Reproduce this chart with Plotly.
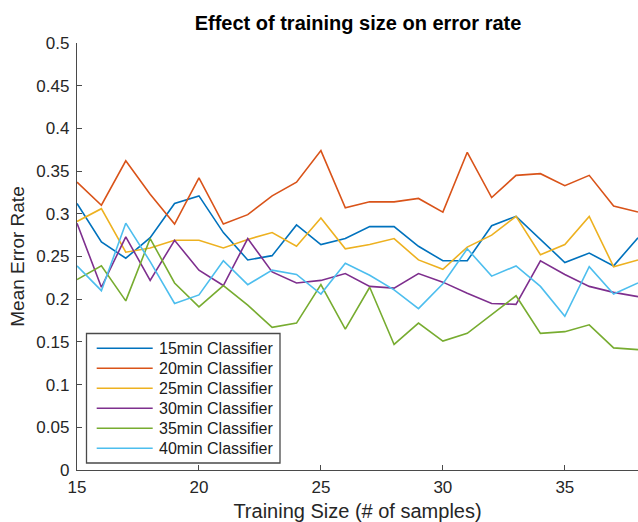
import plotly.graph_objects as go

# Training sizes (number of samples)
training_size = list(range(15, 39))

# Mean error rate per classifier window
err_15min = [0.312, 0.267, 0.248, 0.272, 0.312, 0.321, 0.278, 0.246, 0.251, 0.287, 0.264, 0.271,
             0.285, 0.285, 0.262, 0.245, 0.245, 0.286, 0.297, 0.270, 0.243, 0.254, 0.239, 0.272]
err_20min = [0.337, 0.310, 0.362, 0.323, 0.288, 0.342, 0.288, 0.299, 0.321, 0.337, 0.374, 0.307,
             0.314, 0.314, 0.318, 0.302, 0.372, 0.319, 0.345, 0.347, 0.333, 0.345, 0.309, 0.302]
err_25min = [0.291, 0.306, 0.255, 0.260, 0.269, 0.269, 0.260, 0.270, 0.278, 0.262, 0.295, 0.259,
             0.264, 0.271, 0.246, 0.235, 0.261, 0.275, 0.297, 0.252, 0.264, 0.297, 0.238, 0.246]
err_30min = [0.289, 0.214, 0.273, 0.222, 0.269, 0.234, 0.216, 0.271, 0.232, 0.219, 0.222, 0.230,
             0.215, 0.213, 0.230, 0.220, 0.207, 0.195, 0.194, 0.245, 0.229, 0.215, 0.208, 0.203]
err_35min = [0.223, 0.239, 0.198, 0.271, 0.219, 0.191, 0.216, 0.193, 0.167, 0.172, 0.217, 0.165,
             0.214, 0.147, 0.172, 0.151, 0.160, 0.182, 0.204, 0.160, 0.162, 0.170, 0.143, 0.141]
err_40min = [0.239, 0.210, 0.289, 0.244, 0.195, 0.205, 0.245, 0.217, 0.234, 0.229, 0.206, 0.242,
             0.228, 0.211, 0.189, 0.218, 0.259, 0.227, 0.239, 0.215, 0.180, 0.238, 0.206, 0.219]

x_ticks = [15, 20, 25, 30, 35]
y_ticks = [0, 0.05, 0.1, 0.15, 0.2, 0.25, 0.3, 0.35, 0.4, 0.45, 0.5]
y_tick_text = ["0", "0.05", "0.1", "0.15", "0.2", "0.25", "0.3", "0.35", "0.4", "0.45", "0.5"]

series_names = ["15min Classifier", "20min Classifier", "25min Classifier",
                "30min Classifier", "35min Classifier", "40min Classifier"]
series_values = [err_15min, err_20min, err_25min, err_30min, err_35min, err_40min]
series_colors = ["#0072BD", "#D95319", "#EDB120", "#7E2F8E", "#77AC30", "#4DBEEE"]

FONT = "Liberation Sans, Arial, Helvetica, sans-serif"
AXIS_GREY = "#4a4a4a"

W, H = 638, 522
ML, MR, MT, MB = 77, 0, 43, 52


def px_x(px):
    """Pixel column -> paper x."""
    return (px - ML) / (W - ML - MR)


def px_y(py):
    """Pixel row -> paper y."""
    return (H - MB - py) / (H - MT - MB)


fig = go.Figure()
for name, values, color in zip(series_names, series_values, series_colors):
    fig.add_trace(go.Scatter(
        x=training_size, y=values, mode="lines", name=name,
        line=dict(color=color, width=1.6), showlegend=False,
    ))

# Boxed legend in the lower-left corner of the axes
shapes = [dict(
    type="rect", xref="paper", yref="paper",
    x0=px_x(86.5), x1=px_x(280), y0=px_y(463), y1=px_y(333.5),
    line=dict(color=AXIS_GREY, width=1.3), fillcolor="white", layer="above",
)]
annotations = []
for i, (name, color) in enumerate(zip(series_names, series_colors)):
    row = 348.3 + 20 * i
    shapes.append(dict(
        type="line", xref="paper", yref="paper",
        x0=px_x(96.7), x1=px_x(152.7), y0=px_y(row), y1=px_y(row),
        line=dict(color=color, width=1.6), layer="above",
    ))
    annotations.append(dict(
        xref="paper", yref="paper", x=px_x(156.5), y=px_y(row),
        xanchor="left", yanchor="middle", showarrow=False,
        text=name, font=dict(family=FONT, size=16, color="#1a1a1a"),
    ))

fig.update_layout(
    width=W, height=H,
    margin=dict(l=ML, r=MR, t=MT, b=MB),
    paper_bgcolor="white", plot_bgcolor="white",
    font=dict(family=FONT, color="#262626", size=16),
    title=dict(
        text="<b>Effect of training size on error rate</b>",
        font=dict(family=FONT, size=20, color="#000000"),
        x=px_x(358), xref="paper", xanchor="center",
        y=1 - 22.5 / H, yref="container", yanchor="middle",
    ),
    xaxis=dict(
        range=[15, 38], tickvals=x_ticks, ticks="inside", ticklen=5,
        tickcolor=AXIS_GREY, showline=True, linecolor=AXIS_GREY, linewidth=1.3,
        showgrid=False, zeroline=False, ticklabelstandoff=1,
        tickfont=dict(size=17, color="#262626"),
        title=dict(text="Training Size (# of samples)", font=dict(size=20, color="#262626"), standoff=9),
    ),
    yaxis=dict(
        range=[0, 0.5], tickvals=y_ticks, ticktext=y_tick_text, ticks="inside", ticklen=5,
        tickcolor=AXIS_GREY, showline=True, linecolor=AXIS_GREY, linewidth=1.3,
        showgrid=False, zeroline=False, ticklabelstandoff=3,
        tickfont=dict(size=17, color="#262626"),
        title=dict(text="Mean Error Rate", font=dict(size=19, color="#262626"), standoff=6),
    ),
    shapes=shapes,
    annotations=annotations,
    showlegend=False,
)

fig.write_html("out.html")
